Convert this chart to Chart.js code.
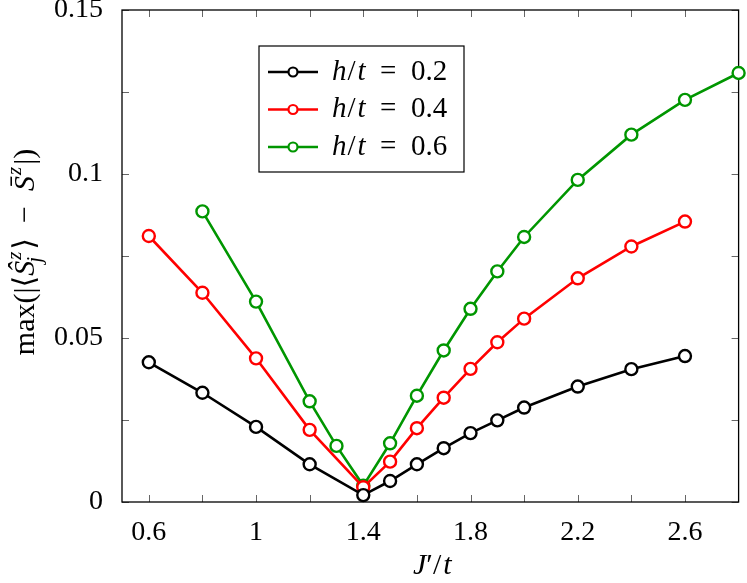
<!DOCTYPE html>
<html>
<head>
<meta charset="utf-8">
<script src="https://cdn.jsdelivr.net/npm/chart.js@4.4.1/dist/chart.umd.min.js"></script>
<style>
  html, body { margin: 0; padding: 0; background: #fff; }
  #wrap { width: 747px; height: 583px; }
</style>
</head>
<body>
<div id="wrap"><canvas id="chart" width="747" height="583"></canvas></div>
<script>
// ── Data ─────────────────────────────────────
const jBase  = [0.6, 0.8, 1.0, 1.2, 1.4, 1.5, 1.6, 1.7, 1.8, 1.9, 2.0, 2.2, 2.4, 2.6];
const jGreen = [0.8, 1.0, 1.2, 1.3, 1.4, 1.5, 1.6, 1.7, 1.8, 1.9, 2.0, 2.2, 2.4, 2.6, 2.8];

const h02 = [0.0426, 0.0333, 0.0229, 0.0115, 0.0021, 0.0064, 0.0115, 0.0164, 0.0210, 0.0249, 0.0288, 0.0352, 0.0405, 0.0445];
const h04 = [0.0811, 0.0638, 0.0438, 0.0220, 0.0045, 0.0123, 0.0225, 0.0318, 0.0406, 0.0487, 0.0559, 0.0682, 0.0779, 0.0855];
const h06 = [0.0886, 0.0611, 0.0307, 0.0171, 0.0050, 0.0179, 0.0324, 0.0462, 0.0589, 0.0703, 0.0808, 0.0982, 0.1120, 0.1226, 0.1308];

const hValues = ['0.2', '0.4', '0.6'];
const seriesColors = ['#000000', '#ff0000', '#009600'];

const xTickValues = [0.6, 0.8, 1.0, 1.2, 1.4, 1.6, 1.8, 2.0, 2.2, 2.4, 2.6];
const xTickLabels = ['0.6', '', '1', '', '1.4', '', '1.8', '', '2.2', '', '2.6'];
const yTickValues = [0, 0.025, 0.05, 0.075, 0.1, 0.125, 0.15];
const yTickLabels = ['0', '', '0.05', '', '0.1', '', '0.15'];

const SERIF = "'Liberation Serif', 'DejaVu Serif', serif";

// ── Helpers ──────────────────────────────────
const toPoints = (xs, ys) => xs.map((x, i) => ({ x: x, y: ys[i] }));

// draw a list of text runs (roman / italic, optional stacked sub/sup)
function drawRuns(ctx, runs, x, y, size, align) {
    const font = (it, s) => (it ? 'italic ' : '') + s + 'px ' + SERIF;
    const small = Math.round(size * 0.7);
    let total = 0;
    runs.forEach(r => {
        ctx.font = font(r.it, size);
        r.w = ctx.measureText(r.t).width + (r.gap || 0);
        let extra = 0;
        ctx.font = font(true, small);
        if (r.sup) extra = Math.max(extra, ctx.measureText(r.sup).width);
        if (r.sub) extra = Math.max(extra, ctx.measureText(r.sub).width);
        r.extra = extra ? extra + 3 : 0;
        total += r.w + r.extra;
    });
    let cx = align === 'center' ? x - total / 2 : x;
    ctx.textBaseline = 'middle';
    ctx.textAlign = 'left';
    runs.forEach(r => {
        ctx.font = font(r.it, size);
        ctx.fillText(r.t, cx, y);
        cx += r.w;
        ctx.font = font(true, small);
        if (r.sup) ctx.fillText(r.sup, cx + 1, y - size * 0.36);
        if (r.sub) ctx.fillText(r.sub, cx - 2, y + size * 0.3);
        cx += r.extra;
    });
}

// ── Frame, inward ticks, axis titles, legend ─
const pgfDecor = {
    id: 'pgfDecor',
    beforeDatasetsDraw(chart) {
        const { ctx, chartArea: a, scales } = chart;
        ctx.save();
        ctx.strokeStyle = '#666';
        ctx.lineWidth = 1;
        const len = 7;
        ctx.beginPath();
        xTickValues.forEach(v => {
            const px = Math.round(scales.x.getPixelForValue(v)) + 0.5;
            ctx.moveTo(px, a.bottom); ctx.lineTo(px, a.bottom - len);
            ctx.moveTo(px, a.top);    ctx.lineTo(px, a.top + len);
        });
        yTickValues.forEach(v => {
            const py = Math.round(scales.y.getPixelForValue(v)) + 0.5;
            ctx.moveTo(a.left, py);  ctx.lineTo(a.left + len, py);
            ctx.moveTo(a.right, py); ctx.lineTo(a.right - len, py);
        });
        ctx.stroke();
        ctx.strokeStyle = '#000';
        ctx.lineWidth = 1.3;
        ctx.strokeRect(a.left, a.top, a.right - a.left, a.bottom - a.top);
        ctx.restore();
    },
    afterDraw(chart) {
        const { ctx, chartArea: a } = chart;
        ctx.save();
        ctx.fillStyle = '#000';

        // x title
        drawRuns(ctx, [
            { t: 'J', it: true },
            { t: '\u2032/', it: false, gap: 2 },
            { t: 't', it: true }
        ], (a.left + a.right) / 2 + 2, 566, 30, 'center');

        // y title (rotated)
        ctx.save();
        ctx.translate(26, 252);
        ctx.rotate(-Math.PI / 2);
        drawRuns(ctx, [
            { t: 'max(|\u27E8', it: false },
            { t: '\u015C', it: true, sup: 'z', sub: 'j' },
            { t: '\u27E9  \u2212  ', it: false },
            { t: 'S\u0304', it: true, sup: 'z' },
            { t: '|)', it: false }
        ], 0, 0, 30, 'center');
        ctx.restore();

        // legend
        const bx = 259, by = 46, bw = 205, bh = 126;
        ctx.fillStyle = '#fff';
        ctx.fillRect(bx, by, bw, bh);
        ctx.strokeStyle = '#000';
        ctx.lineWidth = 1.2;
        ctx.strokeRect(bx, by, bw, bh);
        chart.data.datasets.forEach((ds, i) => {
            const ry = 72 + i * 37.5;
            ctx.strokeStyle = ds.borderColor;
            ctx.lineWidth = 2.6;
            ctx.beginPath();
            ctx.moveTo(268, ry); ctx.lineTo(318, ry);
            ctx.stroke();
            ctx.beginPath();
            ctx.arc(293, ry, 4.5, 0, Math.PI * 2);
            ctx.fillStyle = '#fff';
            ctx.fill();
            ctx.lineWidth = 2.2;
            ctx.stroke();
            ctx.fillStyle = '#000';
            drawRuns(ctx, [
                { t: 'h', it: true, gap: 1 },
                { t: '/', it: false, gap: 2 },
                { t: 't', it: true },
                { t: '  =  ' + hValues[i], it: false }
            ], 332, ry, 29, 'left');
        });
        ctx.restore();
    }
};

// ── Chart ────────────────────────────────────
const makeSet = (xs, ys, i) => ({
    label: 'h/t = ' + hValues[i],
    data: toPoints(xs, ys),
    showLine: true,
    borderColor: seriesColors[i],
    backgroundColor: '#fff',
    borderWidth: 2.6,
    pointRadius: 6,
    pointBorderWidth: 2.4,
    pointBackgroundColor: '#fff',
    pointBorderColor: seriesColors[i],
    clip: false
});

new Chart(document.getElementById('chart'), {
    type: 'scatter',
    data: {
        datasets: [
            makeSet(jBase, h02, 0),
            makeSet(jBase, h04, 1),
            makeSet(jGreen, h06, 2)
        ]
    },
    options: {
        responsive: false,
        animation: false,
        devicePixelRatio: 1,
        layout: { padding: { top: 10, right: 8, left: 0, bottom: 0 } },
        plugins: { legend: { display: false }, tooltip: { enabled: false } },
        scales: {
            x: {
                type: 'linear',
                min: 0.5, max: 2.8,
                grid: { display: false },
                border: { display: false },
                afterBuildTicks: s => { s.ticks = xTickValues.map(v => ({ value: v })); },
                afterFit: s => { s.height = 81; s.paddingLeft = 0; s.paddingRight = 0; },
                ticks: {
                    autoSkip: false,
                    maxRotation: 0,
                    padding: 6,
                    color: '#000',
                    font: { family: SERIF, size: 28 },
                    callback: (v, i) => xTickLabels[i]
                }
            },
            y: {
                type: 'linear',
                min: 0, max: 0.15,
                grid: { display: false },
                border: { display: false },
                afterBuildTicks: s => { s.ticks = yTickValues.map(v => ({ value: v })); },
                afterFit: s => { s.width = 122; s.paddingTop = 0; s.paddingBottom = 0; },
                ticks: {
                    autoSkip: false,
                    padding: 11,
                    color: '#000',
                    font: { family: SERIF, size: 28 },
                    callback: (v, i) => yTickLabels[i]
                }
            }
        }
    },
    plugins: [pgfDecor]
});
</script>
</body>
</html>
